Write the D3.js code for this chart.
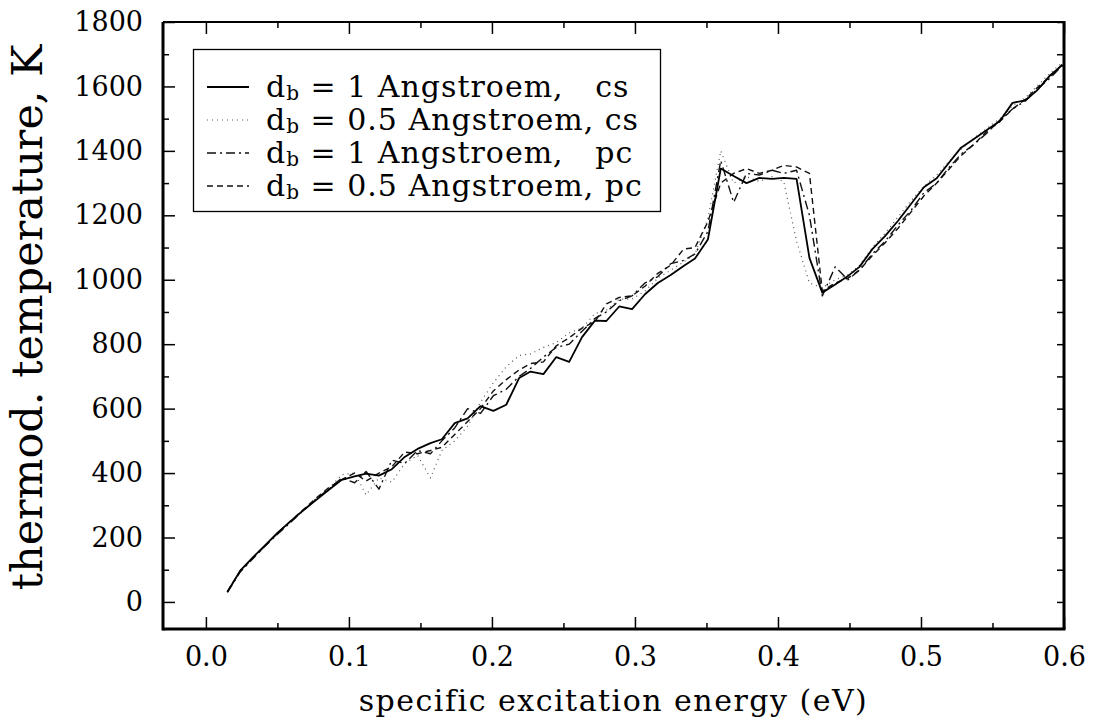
<!DOCTYPE html>
<html>
<head>
<meta charset="utf-8">
<script src="https://cdn.jsdelivr.net/npm/d3@7"></script>
<style>
  body { margin: 0; background: #fff; }
  text { font-family: "DejaVu Serif", serif; fill: #000; }
</style>
</head>
<body>
<div id="chart"></div>
<script>
// specific excitation energy (eV), shared grid of the four runs
const energy = [0.015, 0.024, 0.033, 0.042, 0.050, 0.059, 0.068, 0.077, 0.086, 0.095,
  0.104, 0.112, 0.121, 0.130, 0.139, 0.148, 0.157, 0.165, 0.174, 0.183,
  0.192, 0.201, 0.210, 0.219, 0.227, 0.236, 0.245, 0.254, 0.263, 0.272,
  0.280, 0.289, 0.298, 0.307, 0.316, 0.325, 0.334, 0.342, 0.351, 0.360,
  0.369, 0.378, 0.387, 0.396, 0.404, 0.413, 0.422, 0.431, 0.440, 0.449,
  0.457, 0.466, 0.475, 0.484, 0.493, 0.502, 0.511, 0.519, 0.528, 0.537,
  0.546, 0.555, 0.564, 0.573, 0.581, 0.590, 0.599];

// thermodynamic temperature (K)
const tempCs1 = [31, 97, 139, 179, 214, 250, 284, 316, 348, 379,
  390, 398, 392, 412, 450, 475, 493, 505, 555, 570,
  608, 593, 612, 695, 715, 707, 760, 745, 822, 873,
  872, 917, 909, 955, 990, 1015, 1043, 1066, 1125, 1345,
  1322, 1300, 1316, 1313, 1316, 1313, 1068, 960, 985, 1012,
  1040, 1095, 1136, 1183, 1235, 1287, 1315, 1360, 1410, 1437,
  1465, 1492, 1549, 1557, 1587, 1633, 1667];

const tempCs05 = [33, 97, 138, 178, 212, 248, 282, 318, 352, 395,
  400, 332, 385, 372, 430, 455, 385, 470, 500, 545,
  620, 680, 730, 765, 770, 790, 805, 835, 850, 895,
  905, 940, 940, 965, 1005, 1030, 1055, 1080, 1190, 1400,
  1300, 1320, 1305, 1320, 1305, 1120, 990, 975, 1000, 1015,
  1045, 1100, 1145, 1195, 1245, 1290, 1325, 1365, 1405, 1440,
  1470, 1500, 1540, 1565, 1600, 1640, 1675];

const tempPc1 = [30, 93, 135, 176, 210, 246, 283, 320, 350, 385,
  370, 405, 350, 440, 430, 470, 460, 500, 540, 600,
  585, 640, 660, 700, 725, 760, 790, 800, 840, 880,
  900, 935, 950, 990, 1010, 1050, 1060, 1080, 1150, 1370,
  1240, 1330, 1325, 1340, 1330, 1340, 1200, 950, 1040, 1000,
  1030, 1080, 1120, 1170, 1215, 1270, 1300, 1345, 1390, 1420,
  1455, 1495, 1530, 1555, 1590, 1625, 1665];

const tempPc05 = [32, 96, 137, 177, 213, 250, 286, 322, 355, 380,
  400, 375, 400, 420, 465, 460, 470, 480, 520, 560,
  600, 655, 690, 720, 740, 745, 795, 820, 850, 870,
  925, 945, 950, 980, 1020, 1045, 1095, 1100, 1180, 1300,
  1330, 1345, 1330, 1340, 1355, 1350, 1330, 965, 990, 1005,
  1030, 1075, 1115, 1160, 1210, 1260, 1300, 1340, 1385, 1420,
  1460, 1490, 1530, 1560, 1595, 1630, 1670];

const seriesNames = ["1 Angstroem,   cs", "0.5 Angstroem, cs", "1 Angstroem,   pc", "0.5 Angstroem, pc"];
const xMajor = [0, 0.1, 0.2, 0.3, 0.4, 0.5, 0.6];
const xMinor = [0.05, 0.15, 0.25, 0.35, 0.45, 0.55];
const yMajor = [0, 200, 400, 600, 800, 1000, 1200, 1400, 1600, 1800];
const yMinor = [100, 300, 500, 700, 900, 1100, 1300, 1500, 1700];

const W = 1096, H = 728;
const plot = {left: 163, right: 1064, top: 22, bottom: 629};

const svg = d3.select("#chart").append("svg")
    .attr("width", W)
    .attr("height", H);

const x = d3.scaleLinear().domain([-0.03, 0.6]).range([plot.left, plot.right]);
const y = d3.scaleLinear().domain([-84, 1800]).range([plot.bottom, plot.top]);

// line styles for the four runs
const styles = [
  {dash: null, width: 1.8, color: "#000"},
  {dash: "1,4", width: 1.2, color: "#555"},
  {dash: "9,4,2,4", width: 1.4, color: "#111"},
  {dash: "6,4", width: 1.4, color: "#111"}
];
const temps = [tempCs1, tempCs05, tempPc1, tempPc05];

const line = d3.line()
    .x(d => x(d[0]))
    .y(d => y(d[1]));

// draw from the back: dotted first, solid last
[1, 3, 2, 0].forEach(i => {
  svg.append("path")
      .datum(energy.map((e, j) => [e, temps[i][j]]))
      .attr("fill", "none")
      .attr("stroke", styles[i].color)
      .attr("stroke-width", styles[i].width)
      .attr("stroke-dasharray", styles[i].dash)
      .attr("stroke-linejoin", "round")
      .attr("d", line);
});

// axes: ticks pointing inward on all four sides
svg.append("g")
    .attr("transform", `translate(0,${plot.bottom})`)
    .call(d3.axisBottom(x).tickValues(xMajor).tickSize(-12).tickPadding(18).tickFormat(d3.format(".1f")));
svg.append("g")
    .attr("transform", `translate(0,${plot.bottom})`)
    .call(d3.axisBottom(x).tickValues(xMinor).tickSize(-6).tickFormat(""));
svg.append("g")
    .attr("transform", `translate(0,${plot.top})`)
    .call(d3.axisTop(x).tickValues(xMajor).tickSize(-12).tickFormat(""));
svg.append("g")
    .attr("transform", `translate(0,${plot.top})`)
    .call(d3.axisTop(x).tickValues(xMinor).tickSize(-6).tickFormat(""));

svg.append("g")
    .attr("transform", `translate(${plot.left},0)`)
    .call(d3.axisLeft(y).tickValues(yMajor).tickSize(-12).tickPadding(20).tickFormat(d3.format("d")));
svg.append("g")
    .attr("transform", `translate(${plot.left},0)`)
    .call(d3.axisLeft(y).tickValues(yMinor).tickSize(-6).tickFormat(""));
svg.append("g")
    .attr("transform", `translate(${plot.right},0)`)
    .call(d3.axisRight(y).tickValues(yMajor.concat(yMinor)).tickSize(-7).tickFormat(""));

svg.selectAll(".domain").remove();
svg.selectAll(".tick line").attr("stroke", "#000").attr("stroke-width", 1.5);
svg.selectAll(".tick text")
    .style("font-family", "'DejaVu Serif', serif")
    .style("font-size", "27px")
    .attr("fill", "#000");

// frame
svg.append("line").attr("x1", plot.left).attr("x2", plot.right + 1.5)
    .attr("y1", plot.bottom).attr("y2", plot.bottom)
    .attr("stroke", "#000").attr("stroke-width", 3);
svg.append("line").attr("x1", plot.left).attr("x2", plot.left)
    .attr("y1", plot.top).attr("y2", plot.bottom + 1.5)
    .attr("stroke", "#000").attr("stroke-width", 3);
svg.append("line").attr("x1", plot.left).attr("x2", plot.right)
    .attr("y1", plot.top).attr("y2", plot.top)
    .attr("stroke", "#000").attr("stroke-width", 2);
svg.append("line").attr("x1", plot.right).attr("x2", plot.right)
    .attr("y1", plot.top - 1).attr("y2", plot.bottom)
    .attr("stroke", "#000").attr("stroke-width", 3);

// axis titles
svg.append("text")
    .attr("x", (plot.left + plot.right) / 2)
    .attr("y", 711)
    .attr("text-anchor", "middle")
    .style("font-size", "30px")
    .style("letter-spacing", "1.5px")
    .text("specific excitation energy (eV)");

svg.append("text")
    .attr("transform", `translate(42,${(plot.top + plot.bottom) / 2 - 8}) rotate(-90)`)
    .attr("text-anchor", "middle")
    .style("font-size", "43px")
    .text("thermod. temperature, K");

// legend
const legend = svg.append("g");
legend.append("rect")
    .attr("x", 193.5).attr("y", 49.5)
    .attr("width", 467).attr("height", 162)
    .attr("fill", "#fff")
    .attr("stroke", "#000")
    .attr("stroke-width", 1.3);

seriesNames.forEach((name, i) => {
  const yy = 87 + i * 33;
  legend.append("line")
      .attr("x1", 207).attr("x2", 249)
      .attr("y1", yy).attr("y2", yy)
      .attr("stroke", styles[i].color)
      .attr("stroke-width", styles[i].width)
      .attr("stroke-dasharray", styles[i].dash);
  const t = legend.append("text")
      .attr("x", 266)
      .attr("y", yy + 10)
      .style("font-size", "30px")
      .style("letter-spacing", "1px")
      .style("white-space", "pre");
  t.append("tspan").text("d");
  t.append("tspan").attr("dy", 3).style("font-size", "20px").text("b");
  t.append("tspan").attr("dy", -3).text(" = " + name);
});
</script>
</body>
</html>
